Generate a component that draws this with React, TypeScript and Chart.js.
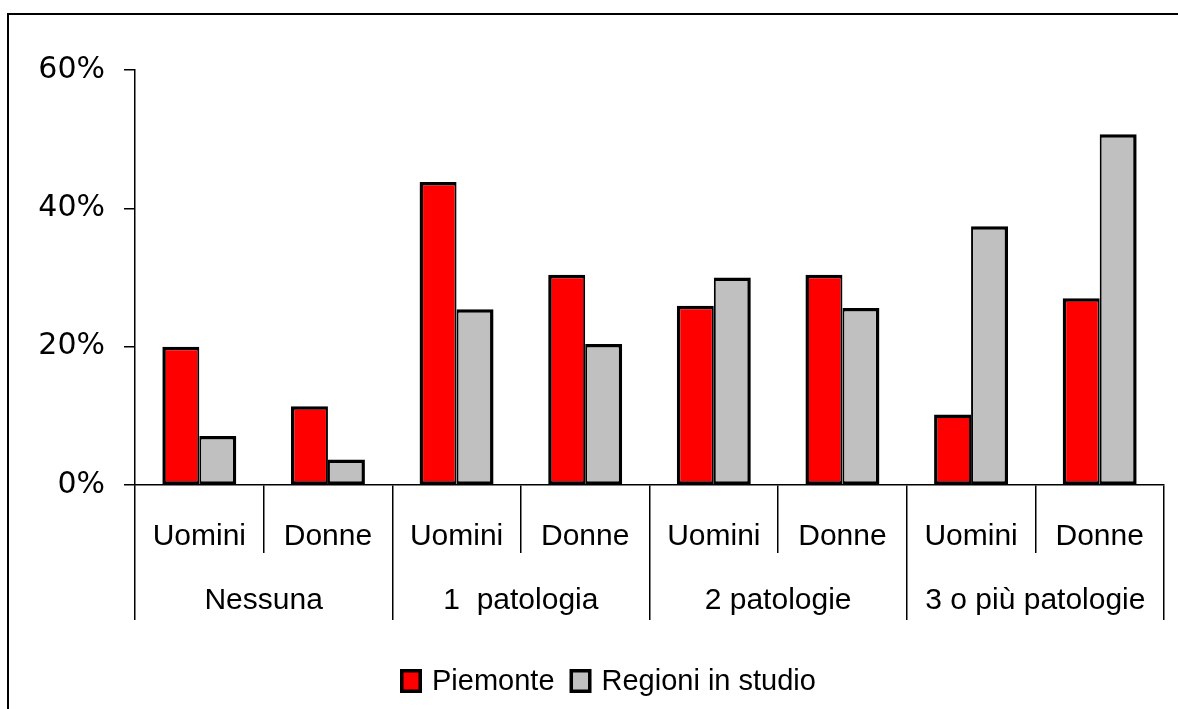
import React, { useEffect, useRef } from "react";
import { Chart, registerables } from "chart.js";

Chart.register(...registerables);

const categories = ["Uomini", "Donne", "Uomini", "Donne", "Uomini", "Donne", "Uomini", "Donne"];
const groups = ["Nessuna", "1  patologia", "2 patologie", "3 o più patologie"];
const seriesNames = ["Piemonte", "Regioni in studio"];
const piemonte = [20.0, 11.4, 43.8, 30.4, 25.9, 30.4, 10.2, 27.0];
const regioni = [7.1, 3.7, 25.4, 20.4, 30.0, 25.6, 37.4, 50.7];
const yMin = 0;
const yMax = 60;
const yStep = 20;

const LABEL_FONT = '"Liberation Sans", Arial, sans-serif';
const TICK_FONT = '"DejaVu Sans", Tahoma, sans-serif';

export default function App() {
  const ref = useRef<HTMLCanvasElement>(null);

  useEffect(() => {
    const canvas = ref.current;
    if (!canvas) return;

    const framePlugin = {
      id: "frame",
      beforeDraw(chart: any) {
        const ctx = chart.ctx;
        ctx.save();
        ctx.strokeStyle = "#000";
        ctx.lineWidth = 2;
        ctx.beginPath();
        ctx.moveTo(8, chart.height + 10);
        ctx.lineTo(8, 14);
        ctx.lineTo(chart.width + 10, 14);
        ctx.stroke();
        ctx.restore();
      },
    };

    const legendPlugin = {
      id: "customLegend",
      afterDraw(chart: any) {
        const ctx = chart.ctx;
        ctx.save();
        ctx.font = `29px ${LABEL_FONT}`;
        const boxW = 22, boxH = 24, gap = 10, itemGap = 15, border = 3.5;
        const items = chart.data.datasets.map((ds: any) => ({
          label: ds.label,
          color: ds.backgroundColor,
          w: ctx.measureText(ds.label).width,
        }));
        const total = items.reduce(
          (s: number, it: any, i: number) => s + boxW + gap + it.w + (i ? itemGap : 0),
          0
        );
        let x = Math.round(608 - total / 2);
        const cy = 681;
        items.forEach((it: any, i: number) => {
          if (i) x += itemGap;
          ctx.fillStyle = "#000";
          ctx.fillRect(x, cy - boxH / 2, boxW, boxH);
          ctx.fillStyle = it.color;
          ctx.fillRect(x + border, cy - boxH / 2 + border, boxW - 2 * border, boxH - 2 * border);
          x += boxW + gap;
          ctx.fillStyle = "#000";
          ctx.textBaseline = "middle";
          ctx.textAlign = "left";
          ctx.fillText(it.label, x, cy + 1);
          x += it.w;
        });
        ctx.restore();
      },
    };

    const chart = new Chart(canvas, {
      type: "bar",
      data: {
        labels: categories,
        datasets: [
          {
            label: seriesNames[0],
            data: piemonte,
            backgroundColor: "#FF0000",
            borderColor: "#000000",
            borderWidth: { top: 3.5, left: 3.5, right: 2, bottom: 3 } as any,
            borderSkipped: false,
          },
          {
            label: seriesNames[1],
            data: regioni,
            backgroundColor: "#C0C0C0",
            borderColor: "#000000",
            borderWidth: { top: 3.5, left: 2, right: 3.5, bottom: 3 } as any,
            borderSkipped: false,
          },
        ],
      },
      options: {
        responsive: false,
        animation: false,
        devicePixelRatio: 1,
        layout: { padding: { top: 70, left: 0, right: 14, bottom: 89 } },
        plugins: {
          legend: { display: false },
          tooltip: { enabled: false },
          title: { display: false },
        },
        datasets: {
          bar: { categoryPercentage: 0.575, barPercentage: 1 },
        },
        scales: {
          y: {
            min: yMin,
            max: yMax,
            afterFit(scale: any) {
              scale.width = 135;
            },
            ticks: {
              stepSize: yStep,
              padding: 19,
              color: "#000",
              font: { family: TICK_FONT, size: 30 },
              callback: (v: any) => `${v}%`,
            },
            grid: {
              drawOnChartArea: false,
              drawTicks: true,
              tickLength: 11,
              color: "#000",
              lineWidth: 1.5,
            },
            border: { display: true, color: "#000", width: 1.5 },
          },
          x: {
            type: "category",
            position: "bottom",
            weight: 0,
            offset: true,
            afterFit(scale: any) {
              scale.height = 68;
            },
            ticks: {
              padding: -34,
              color: "#000",
              maxRotation: 0,
              autoSkip: false,
              font: { family: LABEL_FONT, size: 30 },
            },
            grid: {
              offset: true,
              drawOnChartArea: false,
              drawTicks: true,
              tickLength: 68,
              color: "#000",
              lineWidth: 1.5,
            },
            border: { display: true, color: "#000", width: 1.5 },
          },
          x2: {
            type: "category",
            position: "bottom",
            weight: 1,
            labels: groups,
            offset: true,
            afterFit(scale: any) {
              scale.height = 67;
            },
            ticks: {
              padding: -37,
              color: "#000",
              maxRotation: 0,
              autoSkip: false,
              font: { family: LABEL_FONT, size: 30 },
            },
            grid: {
              offset: true,
              drawOnChartArea: false,
              drawTicks: true,
              tickLength: 67,
              color: "#000",
              lineWidth: 1.5,
            },
            border: { display: false },
          },
        },
      } as any,
      plugins: [framePlugin, legendPlugin],
    });

    return () => chart.destroy();
  }, []);

  return (
    <canvas
      ref={ref}
      width={1178}
      height={709}
      style={{ position: "fixed", left: 0, top: 0, background: "#fff" }}
    />
  );
}
